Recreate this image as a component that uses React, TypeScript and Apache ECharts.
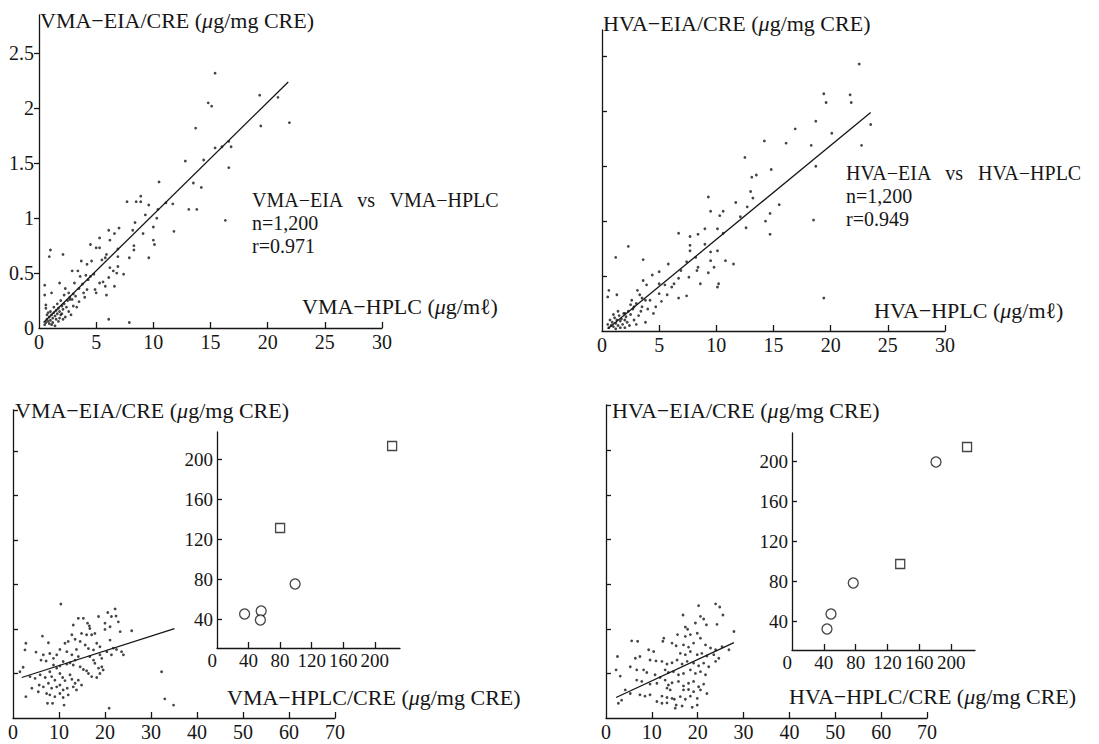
import React, { useEffect, useRef } from "react";
import * as echarts from "echarts";

const FONT = '"Liberation Serif", "DejaVu Serif", "Times New Roman", serif';
const INK = "#161616";

// ---- Top-left: VMA-EIA/CRE vs VMA-HPLC ----
const vmaPoints: number[][] = [
  [15.4, 2.32], [14.8, 2.05], [15.1, 2.02], [19.3, 2.12], [20.9, 2.1], [19.4, 1.84], [21.9, 1.87],
  [13.7, 1.82], [15.4, 1.64], [16.0, 1.65], [16.8, 1.65], [16.6, 1.7], [12.8, 1.52], [14.4, 1.53],
  [16.6, 1.46], [10.5, 1.33], [13.5, 1.32], [14.2, 1.28], [8.5, 1.15], [8.9, 1.15], [8.9, 1.2],
  [7.7, 1.15], [9.6, 1.12], [11.1, 1.14], [11.7, 1.13], [13.1, 1.08], [13.8, 1.08], [16.3, 0.98],
  [10.4, 1.08], [10.3, 1.0], [10.0, 0.92], [11.8, 0.88], [8.4, 0.96], [9.3, 1.03], [9.1, 0.86],
  [8.2, 0.89], [7.0, 0.91], [6.1, 0.89], [6.6, 0.86], [6.2, 0.8], [5.3, 0.82], [5.3, 0.73],
  [4.5, 0.76], [5.0, 0.73], [6.9, 0.72], [8.3, 0.75], [8.3, 0.71], [7.9, 0.64], [9.6, 0.64],
  [10.0, 0.8], [10.1, 0.76], [6.9, 0.65], [1.0, 0.71], [0.9, 0.65], [2.1, 0.67], [5.9, 0.67],
  [3.7, 0.61], [4.2, 0.58], [4.6, 0.61], [5.5, 0.62], [5.8, 0.64], [2.9, 0.52], [3.4, 0.52],
  [3.6, 0.47], [4.1, 0.48], [4.5, 0.47], [4.8, 0.49], [6.2, 0.55], [6.5, 0.52], [6.1, 0.46],
  [6.8, 0.5], [6.9, 0.56], [7.4, 0.49], [5.6, 0.42], [5.3, 0.41], [5.8, 0.38], [4.9, 0.35],
  [5.0, 0.32], [4.2, 0.35], [6.6, 0.38], [5.9, 0.3], [0.5, 0.39], [0.5, 0.3], [0.6, 0.21],
  [1.1, 0.32], [1.8, 0.41], [2.3, 0.36], [2.6, 0.32], [3.1, 0.41], [2.7, 0.26], [3.0, 0.2],
  [3.5, 0.24], [3.9, 0.32], [6.1, 0.08], [7.9, 0.05],
  [0.6, 0.05], [0.7, 0.08], [0.8, 0.06], [0.9, 0.1], [1.0, 0.07], [1.1, 0.12], [1.2, 0.09],
  [1.3, 0.14], [1.4, 0.11], [1.5, 0.16], [1.6, 0.13], [1.7, 0.18], [1.8, 0.15], [1.9, 0.12],
  [2.0, 0.2], [2.1, 0.17], [2.2, 0.22], [2.4, 0.19], [2.5, 0.25], [2.7, 0.28], [2.9, 0.26],
  [3.0, 0.31], [3.2, 0.29], [0.5, 0.03], [0.7, 0.12], [0.9, 0.04], [1.0, 0.15], [1.2, 0.05],
  [1.3, 0.19], [1.5, 0.08], [1.6, 0.22], [1.8, 0.09], [2.0, 0.13], [2.3, 0.1], [2.6, 0.15],
  [0.6, 0.18], [0.8, 0.14], [1.1, 0.03], [1.4, 0.02], [1.7, 0.06], [2.1, 0.08], [3.5, 0.36],
  [3.3, 0.19], [4.0, 0.28], [3.8, 0.4], [4.3, 0.44], [2.8, 0.12], [1.9, 0.25], [2.2, 0.3],
];
const vmaLine: number[][] = [[0.4, 0.05], [21.8, 2.24]];

// ---- Top-right: HVA-EIA/CRE vs HVA-HPLC ----
const hvaPoints: number[][] = [
  [22.5, 2.43], [19.4, 2.16], [19.6, 2.08], [21.7, 2.15], [21.8, 2.08], [18.7, 1.91], [23.5, 1.88],
  [16.9, 1.84], [20.1, 1.8], [14.2, 1.73], [16.1, 1.71], [18.3, 1.69], [22.7, 1.69], [12.5, 1.58],
  [14.8, 1.47], [18.7, 1.5], [13.1, 1.4], [13.5, 1.42], [13.0, 1.27], [13.2, 1.21], [9.3, 1.22],
  [9.5, 1.09], [10.6, 1.09], [10.3, 1.05], [11.7, 1.17], [12.7, 1.13], [15.5, 1.15], [14.7, 1.07],
  [12.1, 1.04], [14.3, 1.0], [18.5, 1.01], [12.6, 0.94], [14.7, 0.88], [10.6, 0.89], [10.1, 0.93],
  [6.7, 0.89], [7.7, 0.86], [8.4, 0.88], [9.0, 0.93], [7.7, 0.78], [7.7, 0.73], [9.0, 0.79],
  [2.3, 0.77], [1.2, 0.67], [3.6, 0.65], [5.8, 0.61], [8.2, 0.67], [9.5, 0.72], [9.5, 0.64],
  [10.1, 0.73], [10.8, 0.64], [11.5, 0.61], [7.4, 0.63], [8.4, 0.58], [8.3, 0.55], [9.3, 0.53],
  [9.8, 0.58], [8.6, 0.43], [10.2, 0.43], [10.1, 0.4], [6.9, 0.55], [7.6, 0.49], [6.7, 0.48],
  [6.3, 0.43], [7.4, 0.32], [6.7, 0.3], [19.4, 0.3], [5.0, 0.54], [4.4, 0.51], [3.6, 0.46],
  [3.9, 0.42], [5.0, 0.43], [5.5, 0.42], [6.1, 0.4], [5.0, 0.34], [5.7, 0.33], [4.5, 0.16],
  [3.8, 0.08], [0.6, 0.37], [1.3, 0.33], [0.5, 0.31], [3.1, 0.37], [3.5, 0.3], [4.2, 0.28],
  [4.7, 0.22], [5.2, 0.27], [2.8, 0.22], [3.4, 0.18], [2.0, 0.16], [2.5, 0.24],
  [0.6, 0.03], [0.8, 0.05], [1.0, 0.04], [1.2, 0.07], [1.4, 0.05], [1.6, 0.09], [1.8, 0.06],
  [2.0, 0.1], [2.2, 0.08], [0.7, 0.1], [0.9, 0.08], [1.1, 0.12], [1.3, 0.1], [1.5, 0.14],
  [1.7, 0.11], [1.9, 0.16], [2.1, 0.13], [2.3, 0.18], [2.5, 0.15], [2.7, 0.2], [0.5, 0.06],
  [1.0, 0.15], [1.4, 0.18], [2.4, 0.05], [2.8, 0.1], [3.0, 0.25], [3.2, 0.14], [2.6, 0.28],
  [3.5, 0.22], [3.8, 0.28], [4.0, 0.2], [1.2, 0.02], [1.6, 0.03], [2.0, 0.03], [3.0, 0.06],
  [3.3, 0.33],
];
const hvaLine: number[][] = [[0.5, 0.02], [23.5, 1.99]];

// ---- Bottom-left: VMA-EIA/CRE vs VMA-HPLC/CRE ----
const vmaCrePoints: number[][] = [
  [10.4, 25.6], [22.2, 24.5], [20.6, 23.7], [21.4, 22.8], [22.4, 22.9], [14.2, 22.4], [15.3, 22.4],
  [16.2, 21.3], [18.6, 22.8], [16.6, 20.7], [16.7, 20.1], [13.1, 20.9], [20.0, 21.3], [21.1, 20.5],
  [20.0, 19.9], [22.9, 21.6], [23.3, 19.4], [25.8, 19.6], [14.9, 19.0], [16.0, 18.7], [17.1, 18.7],
  [17.8, 19.0], [12.8, 18.7], [13.5, 17.7], [6.4, 18.4], [2.8, 16.8], [2.6, 15.3], [5.0, 14.8],
  [7.7, 16.9], [11.3, 16.8], [12.0, 17.2], [14.6, 17.2], [15.7, 16.4], [18.2, 16.8], [18.9, 16.0],
  [21.1, 17.5], [21.8, 15.7], [22.5, 15.4], [20.4, 14.9], [10.2, 15.4], [11.7, 14.9], [9.5, 14.2],
  [6.6, 14.2], [8.0, 14.5], [8.8, 13.4], [6.1, 13.0], [7.2, 12.8], [12.8, 14.2], [13.5, 13.0],
  [14.2, 13.8], [16.7, 13.8], [17.5, 13.0], [18.9, 14.2], [19.3, 13.4], [21.4, 14.2], [24.0, 14.2],
  [23.6, 14.9], [10.9, 12.7], [11.7, 12.1], [12.4, 12.4], [13.1, 11.9], [8.8, 11.9], [9.5, 11.2],
  [10.2, 11.7], [14.6, 11.5], [15.3, 10.9], [16.0, 10.6], [17.8, 12.3], [18.6, 11.2], [19.3, 11.5],
  [16.4, 10.0], [17.1, 9.3], [18.2, 9.1], [18.9, 10.0], [19.6, 10.8], [2.2, 11.4], [1.5, 10.4],
  [3.7, 9.3], [4.8, 8.9], [5.9, 9.7], [7.0, 9.1], [8.0, 10.4], [8.4, 9.3], [9.1, 8.5],
  [10.2, 10.0], [10.8, 9.1], [11.3, 8.4], [12.4, 9.7], [12.8, 8.7], [13.5, 7.8], [14.2, 8.5],
  [14.9, 7.4], [5.7, 7.4], [6.6, 7.0], [7.7, 7.8], [8.4, 6.7], [9.5, 7.0], [10.2, 7.4],
  [10.9, 6.3], [11.8, 6.7], [13.1, 7.0], [13.8, 6.3], [4.1, 6.7], [5.5, 5.9], [7.3, 5.5],
  [8.0, 5.2], [9.1, 4.8], [10.2, 5.5], [10.9, 4.6], [12.0, 5.2], [2.8, 4.8], [7.5, 3.3],
  [8.6, 3.3], [11.1, 2.9], [20.9, 2.2], [32.3, 10.4], [33.0, 4.3], [34.9, 2.9], [16.4, 15.6],
  [17.5, 15.3], [13.8, 15.4],
];
const vmaCreLine: number[][] = [[1.9, 9.1], [35.1, 20.1]];
const vmaInsetCircles: number[][] = [[35, 45], [56, 48], [55, 39], [99, 75]];
const vmaInsetSquares: number[][] = [[80, 131], [222, 213]];

// ---- Bottom-right: HVA-EIA/CRE vs HVA-HPLC/CRE ----
const hvaCrePoints: number[][] = [
  [20.2, 25.2], [23.9, 25.6], [24.8, 24.9], [16.8, 23.1], [20.6, 22.8], [21.3, 22.2], [25.5, 23.1],
  [19.5, 21.3], [21.9, 20.9], [24.2, 21.0], [17.3, 20.4], [17.8, 19.9], [27.9, 19.4], [15.6, 18.7],
  [17.3, 18.3], [18.4, 18.7], [19.9, 19.0], [20.6, 17.9], [12.6, 17.9], [12.4, 17.2], [5.6, 17.3],
  [6.9, 17.2], [14.4, 16.8], [15.3, 16.2], [16.9, 16.4], [18.0, 15.9], [19.1, 16.8], [21.7, 16.4],
  [22.8, 15.7], [23.9, 15.3], [25.3, 16.0], [26.8, 15.3], [9.3, 15.3], [10.4, 14.9], [16.2, 14.5],
  [17.3, 14.2], [18.4, 14.9], [19.9, 14.2], [20.9, 14.5], [22.0, 13.9], [23.5, 14.2], [24.6, 13.4],
  [2.5, 13.8], [6.4, 13.4], [7.4, 13.8], [9.6, 13.0], [10.9, 12.8], [12.2, 12.7], [13.3, 12.1],
  [14.4, 12.4], [15.5, 13.0], [16.6, 12.1], [17.7, 12.7], [19.1, 12.3], [20.2, 11.7], [21.3, 12.3],
  [22.4, 11.5], [23.9, 12.7], [5.3, 11.5], [6.7, 10.8], [2.2, 10.8], [3.1, 9.4], [8.2, 10.8],
  [8.9, 10.2], [12.9, 10.8], [13.6, 10.2], [14.7, 10.4], [15.8, 9.7], [16.9, 10.0], [18.4, 10.8],
  [19.5, 10.0], [20.6, 10.4], [21.7, 9.7], [10.7, 9.7], [11.8, 9.1], [6.7, 8.5], [7.8, 8.2],
  [9.6, 7.6], [11.1, 7.8], [12.9, 8.5], [13.6, 7.4], [14.4, 7.9], [15.8, 8.2], [16.9, 7.2],
  [18.0, 7.8], [19.1, 8.2], [20.2, 7.0], [21.3, 7.6], [13.3, 6.7], [14.0, 6.3], [16.9, 6.3],
  [18.0, 6.4], [19.1, 5.9], [20.6, 6.3], [22.0, 5.5], [4.2, 6.3], [5.3, 5.5], [7.4, 5.2],
  [8.5, 4.9], [9.6, 5.2], [12.2, 4.9], [13.3, 4.6], [14.4, 4.4], [16.2, 4.8], [17.3, 4.2],
  [18.4, 4.9], [19.9, 4.4], [11.1, 3.7], [12.2, 3.3], [13.3, 3.4], [15.3, 2.9], [16.6, 2.7],
  [18.8, 2.4], [19.9, 2.9], [2.7, 3.3], [3.4, 4.0], [15.1, 2.2], [14.9, 4.2],
];
const hvaCreLine: number[][] = [[2.2, 4.6], [27.9, 16.9]];
const hvaInsetCircles: number[][] = [[44, 32], [49, 47], [77, 78], [181, 199]];
const hvaInsetSquares: number[][] = [[136, 97], [220, 214]];

// tick / label values
const topXTicks = [0, 5, 10, 15, 20, 25, 30];
const vmaYLabels = [0, 0.5, 1, 1.5, 2, 2.5];
const topYTicks = [0.5, 1, 1.5, 2, 2.5];
const bottomXTicks = [0, 10, 20, 30, 40, 50, 60, 70];
const insetLabels = [0, 40, 80, 120, 160, 200];
const insetTicks = [40, 80, 120, 160, 200];

const lineStyle = { color: INK, width: 1.3 };

function xAxis(gridIndex: number, min: number, max: number, labels: number[] | null, ticks: number[], extra: any = {}) {
  return {
    type: "value",
    gridIndex,
    min,
    max,
    axisLine: { show: true, onZero: false, lineStyle },
    axisTick: { show: true, inside: true, length: 6, customValues: ticks, lineStyle },
    axisLabel: labels
      ? { show: true, customValues: labels, fontFamily: FONT, fontSize: 20, color: INK, margin: 4 }
      : { show: false },
    splitLine: { show: false },
    ...extra,
  };
}

function yAxis(gridIndex: number, min: number, max: number, labels: number[] | null, ticks: number[], inside: boolean, extra: any = {}) {
  return {
    type: "value",
    gridIndex,
    min,
    max,
    axisLine: { show: true, onZero: false, lineStyle },
    axisTick: { show: true, inside, length: 5, customValues: ticks, lineStyle },
    axisLabel: labels
      ? { show: true, customValues: labels, fontFamily: FONT, fontSize: 20, color: INK, margin: 5 }
      : { show: false },
    splitLine: { show: false },
    ...extra,
  };
}

function scatter(i: number, data: number[][], size = 2.8) {
  return {
    type: "scatter",
    xAxisIndex: i,
    yAxisIndex: i,
    data,
    symbol: "circle",
    symbolSize: size,
    itemStyle: { color: INK },
    silent: true,
  };
}

function hollow(i: number, data: number[][], symbol: string) {
  return {
    type: "scatter",
    xAxisIndex: i,
    yAxisIndex: i,
    data,
    symbol,
    symbolSize: symbol === "rect" ? 9 : 10,
    itemStyle: { color: "#ffffff", borderColor: INK, borderWidth: 1.3 },
    silent: true,
  };
}

function regLine(i: number, data: number[][]) {
  return {
    type: "line",
    xAxisIndex: i,
    yAxisIndex: i,
    data,
    showSymbol: false,
    symbol: "none",
    lineStyle,
    silent: true,
  };
}

function txt(x: number, y: number, text: string, size = 22) {
  return {
    type: "text",
    x,
    y,
    silent: true,
    style: {
      text,
      fontFamily: FONT,
      fontSize: size,
      lineHeight: size,
      fill: INK,
      verticalAlign: "middle",
      rich: {
        i: { fontStyle: "italic", fontFamily: FONT, fontSize: size, lineHeight: size, fill: INK },
      },
    },
  };
}

export default function App() {
  const ref = useRef<HTMLDivElement>(null);
  useEffect(() => {
    const chart = echarts.init(ref.current!, null, { renderer: "svg" });
    const insetXLabel = { show: true, customValues: insetLabels, fontFamily: FONT, fontSize: 19, color: INK, margin: 3, alignMinLabel: "right" };
    const insetYLabel = { show: true, customValues: insetTicks, fontFamily: FONT, fontSize: 19, color: INK, margin: 4 };
    const option: any = {
      animation: false,
      backgroundColor: "#ffffff",
      grid: [
        { left: 39, top: 15, width: 343, height: 313 },
        { left: 602, top: 30, width: 343, height: 301 },
        { left: 13, top: 410, width: 322, height: 308 },
        { left: 606, top: 405, width: 321, height: 313 },
        { left: 217, top: 432, width: 183, height: 216 },
        { left: 792, top: 433, width: 183, height: 217 },
      ],
      xAxis: [
        xAxis(0, 0, 30, topXTicks, topXTicks.slice(1)),
        xAxis(1, 0, 30, topXTicks, topXTicks.slice(1)),
        xAxis(2, 0, 70, bottomXTicks, bottomXTicks.slice(1)),
        xAxis(3, 0, 70, bottomXTicks, bottomXTicks.slice(1)),
        xAxis(4, 0, 232, insetLabels, insetTicks, { axisLabel: insetXLabel }),
        xAxis(5, 0, 230, insetLabels, insetTicks, { axisLabel: insetXLabel }),
      ],
      yAxis: [
        yAxis(0, 0, 2.85, vmaYLabels, topYTicks, false),
        yAxis(1, 0, 2.74, null, topYTicks, true),
        yAxis(2, 0, 69.2, null, [10, 20, 30, 40, 50, 60, 69.2], true),
        yAxis(3, 0, 70.2, null, [10, 20, 30, 40, 50, 60, 70.2], true),
        yAxis(4, 11, 227, insetTicks, insetTicks, true, { axisLabel: insetYLabel }),
        yAxis(5, 11, 228, insetTicks, insetTicks, true, { axisLabel: insetYLabel }),
      ],
      series: [
        scatter(0, vmaPoints),
        regLine(0, vmaLine),
        scatter(1, hvaPoints),
        regLine(1, hvaLine),
        scatter(2, vmaCrePoints),
        regLine(2, vmaCreLine),
        scatter(3, hvaCrePoints),
        regLine(3, hvaCreLine),
        hollow(4, vmaInsetCircles, "circle"),
        hollow(4, vmaInsetSquares, "rect"),
        hollow(5, hvaInsetCircles, "circle"),
        hollow(5, hvaInsetSquares, "rect"),
      ],
      graphic: [
        txt(40, 20, "VMA−EIA/CRE ({i|μ}g/mg CRE)"),
        txt(252, 200, "VMA−EIA   vs   VMA−HPLC", 20),
        txt(252, 223, "n=1,200", 20),
        txt(252, 246, "r=0.971", 20),
        txt(302, 306, "VMA−HPLC ({i|μ}g/mℓ)"),
        txt(603, 23, "HVA−EIA/CRE ({i|μ}g/mg CRE)"),
        txt(846, 173, "HVA−EIA   vs   HVA−HPLC", 20),
        txt(846, 196, "n=1,200", 20),
        txt(846, 219, "r=0.949", 20),
        txt(874, 310, "HVA−HPLC ({i|μ}g/mℓ)"),
        txt(15, 410, "VMA−EIA/CRE ({i|μ}g/mg CRE)"),
        txt(227, 697, "VMA−HPLC/CRE ({i|μ}g/mg CRE)"),
        txt(612, 410, "HVA−EIA/CRE ({i|μ}g/mg CRE)"),
        txt(789, 696, "HVA−HPLC/CRE ({i|μ}g/mg CRE)"),
      ],
    };
    chart.setOption(option);
    return () => chart.dispose();
  }, []);
  return (
    <div
      ref={ref}
      style={{ position: "fixed", left: 0, top: 0, width: 1099, height: 744, background: "#fff" }}
    />
  );
}
